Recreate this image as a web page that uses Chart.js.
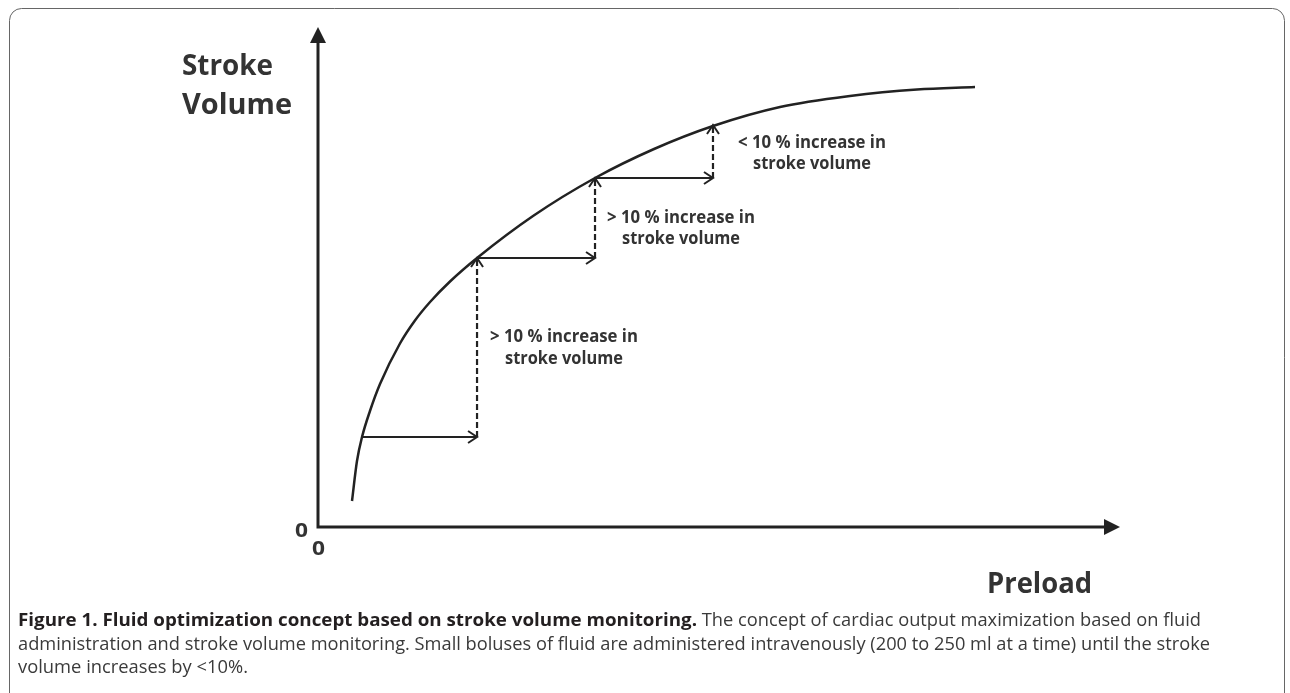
<!DOCTYPE html>
<html><head><meta charset="utf-8">
<script src="https://cdn.jsdelivr.net/npm/chart.js@4/dist/chart.umd.min.js"></script>
<style>html,body{margin:0;padding:0;background:#fff;overflow:hidden}canvas{display:block}</style>
</head><body><canvas id="c" width="1290" height="693"></canvas>
<script>
// Frank-Starling style curve (preload vs stroke volume, arbitrary units 0-100)
const curvePreload      = [4.24, 4.86, 5.49, 6.48, 7.73, 10.22, 12.09, 13.97, 16.46, 19.83, 26.81, 34.54, 41.90, 49.25, 57.61, 66.33, 74.69, 81.92];
const curveStrokeVolume = [5.2, 13.2, 18.0, 23.2, 28.6, 36.7, 41.3, 45.0, 49.1, 53.8, 62.2, 69.8, 75.6, 80.2, 84.0, 86.2, 87.5, 88.0];
// fluid bolus steps
const bolusPreload      = [5.49, 19.83, 34.54, 49.25];
const bolusStrokeVolume = [18.0, 53.8, 69.8, 80.4];
const responseLine1 = ['> 10 % increase in', '> 10 % increase in', '< 10 % increase in'];
const responseLine2 = ['stroke volume', 'stroke volume', 'stroke volume'];
const originLabels = ['0', '0'];
const yAxisTitle = ['Stroke', 'Volume'];
const xAxisTitle = 'Preload';
const captionBold = 'Figure 1. Fluid optimization concept based on stroke volume monitoring.';
const captionRest = [' The concept of cardiac output maximization based on fluid',
  'administration and stroke volume monitoring. Small boluses of fluid are administered intravenously (200 to 250 ml at a time) until the stroke',
  'volume increases by <10%.'];

const INK = '#222';
const curveData = curvePreload.map((x, i) => ({x, y: curveStrokeVolume[i]}));
const datasets = [{
  data: curveData, showLine: true, borderColor: INK, borderWidth: 2.5,
  pointRadius: 0, cubicInterpolationMode: 'monotone', fill: false
}];
for (let i = 0; i < bolusPreload.length - 1; i++) {
  datasets.push({
    data: [{x: bolusPreload[i], y: bolusStrokeVolume[i]}, {x: bolusPreload[i + 1], y: bolusStrokeVolume[i]}],
    showLine: true, borderColor: INK, borderWidth: 2, pointRadius: 0, kind: 'h'
  });
  datasets.push({
    data: [{x: bolusPreload[i + 1], y: bolusStrokeVolume[i]}, {x: bolusPreload[i + 1], y: bolusStrokeVolume[i + 1]}],
    showLine: true, borderColor: INK, borderWidth: 2.2, borderDash: [6, 3], pointRadius: 0, kind: 'v'
  });
}

function fitText(ctx, text, x, y, width, font, align) {
  ctx.save();
  ctx.font = font;
  const w = ctx.measureText(text).width;
  const s = width / w;
  let x0 = x;
  if (align === 'center') x0 = x - width / 2;
  ctx.translate(x0, y);
  ctx.scale(s, 1);
  ctx.textAlign = 'left';
  ctx.textBaseline = 'alphabetic';
  ctx.fillText(text, 0, 0);
  ctx.restore();
}
function chevron(ctx, x, y, dir, len, half) {
  ctx.beginPath();
  if (dir === 'right') { ctx.moveTo(x - len, y - half); ctx.lineTo(x, y); ctx.lineTo(x - len, y + half); }
  else { ctx.moveTo(x - half, y + len); ctx.lineTo(x, y); ctx.lineTo(x + half, y + len); }
  ctx.stroke();
}

const deco = {
  id: 'deco',
  beforeDraw(chart) {
    const ctx = chart.ctx;
    ctx.save();
    ctx.fillStyle = '#fff';
    ctx.fillRect(0, 0, chart.width, chart.height);
    ctx.strokeStyle = '#666';
    ctx.lineWidth = 1;
    ctx.beginPath();
    ctx.roundRect(9.5, 8.5, 1275, 720, 12);
    ctx.stroke();
    ctx.restore();
  },
  afterDatasetsDraw(chart) {
    const ctx = chart.ctx;
    const xs = chart.scales.x, ys = chart.scales.y;
    const ox = xs.getPixelForValue(0), oy = ys.getPixelForValue(0);
    const xt = xs.getPixelForValue(100), yt = ys.getPixelForValue(100);
    ctx.save();
    ctx.strokeStyle = INK; ctx.fillStyle = INK;
    ctx.lineWidth = 3;
    ctx.beginPath();
    ctx.moveTo(ox, yt + 12); ctx.lineTo(ox, oy); ctx.lineTo(xt - 12, oy);
    ctx.stroke();
    ctx.beginPath();
    ctx.moveTo(ox, yt); ctx.lineTo(ox - 8, yt + 16); ctx.lineTo(ox + 8, yt + 16); ctx.closePath(); ctx.fill();
    ctx.beginPath();
    ctx.moveTo(xt, oy); ctx.lineTo(xt - 16, oy - 8); ctx.lineTo(xt - 16, oy + 8); ctx.closePath(); ctx.fill();
    ctx.lineWidth = 2;
    chart.data.datasets.forEach((ds) => {
      if (!ds.kind) return;
      const p = ds.data[1];
      const px = xs.getPixelForValue(p.x), py = ys.getPixelForValue(p.y);
      chevron(ctx, px, py, ds.kind === 'h' ? 'right' : 'up', 9, 6);
    });
    ctx.fillStyle = '#333';
    const bf = 'bold 17px "Open Sans"';
    const labelPos = [[564, 342, 364], [681, 223, 244], [812, 148, 169]];
    for (let i = 0; i < responseLine1.length; i++) {
      const [cx, b1, b2] = labelPos[i];
      fitText(ctx, responseLine1[i], cx, b1, 148, bf, 'center');
      fitText(ctx, responseLine2[i], cx, b2, 118, bf, 'center');
    }
    const tf = 'bold 28px "Open Sans"';
    fitText(ctx, yAxisTitle[0], 182, 75, 91, tf);
    fitText(ctx, yAxisTitle[1], 182, 114, 110, tf);
    fitText(ctx, xAxisTitle, 987, 593, 105, tf);
    const zf = 'bold 20px "Open Sans"';
    fitText(ctx, originLabels[0], 295, 537, 13, zf);
    fitText(ctx, originLabels[1], 312, 555, 13, zf);
    ctx.fillStyle = '#231f20';
    fitText(ctx, captionBold, 18, 626, 679, 'bold 18px "Open Sans"');
    ctx.fillStyle = '#3a3a3a';
    fitText(ctx, captionRest[0], 697, 626, 504, '18px "Open Sans"');
    fitText(ctx, captionRest[1], 18, 650, 1192, '18px "Open Sans"');
    fitText(ctx, captionRest[2], 18, 673, 230, '18px "Open Sans"');
    ctx.restore();
  }
};

new Chart(document.getElementById('c'), {
  type: 'scatter',
  data: { datasets },
  options: {
    responsive: false, animation: false, devicePixelRatio: 1,
    layout: { padding: { left: 318, right: 170, top: 27, bottom: 166 } },
    plugins: { legend: { display: false }, tooltip: { enabled: false } },
    elements: { line: { tension: 0 } },
    scales: {
      x: { type: 'linear', min: 0, max: 100, display: false },
      y: { type: 'linear', min: 0, max: 100, display: false }
    }
  },
  plugins: [deco]
});
</script>
</body></html>
